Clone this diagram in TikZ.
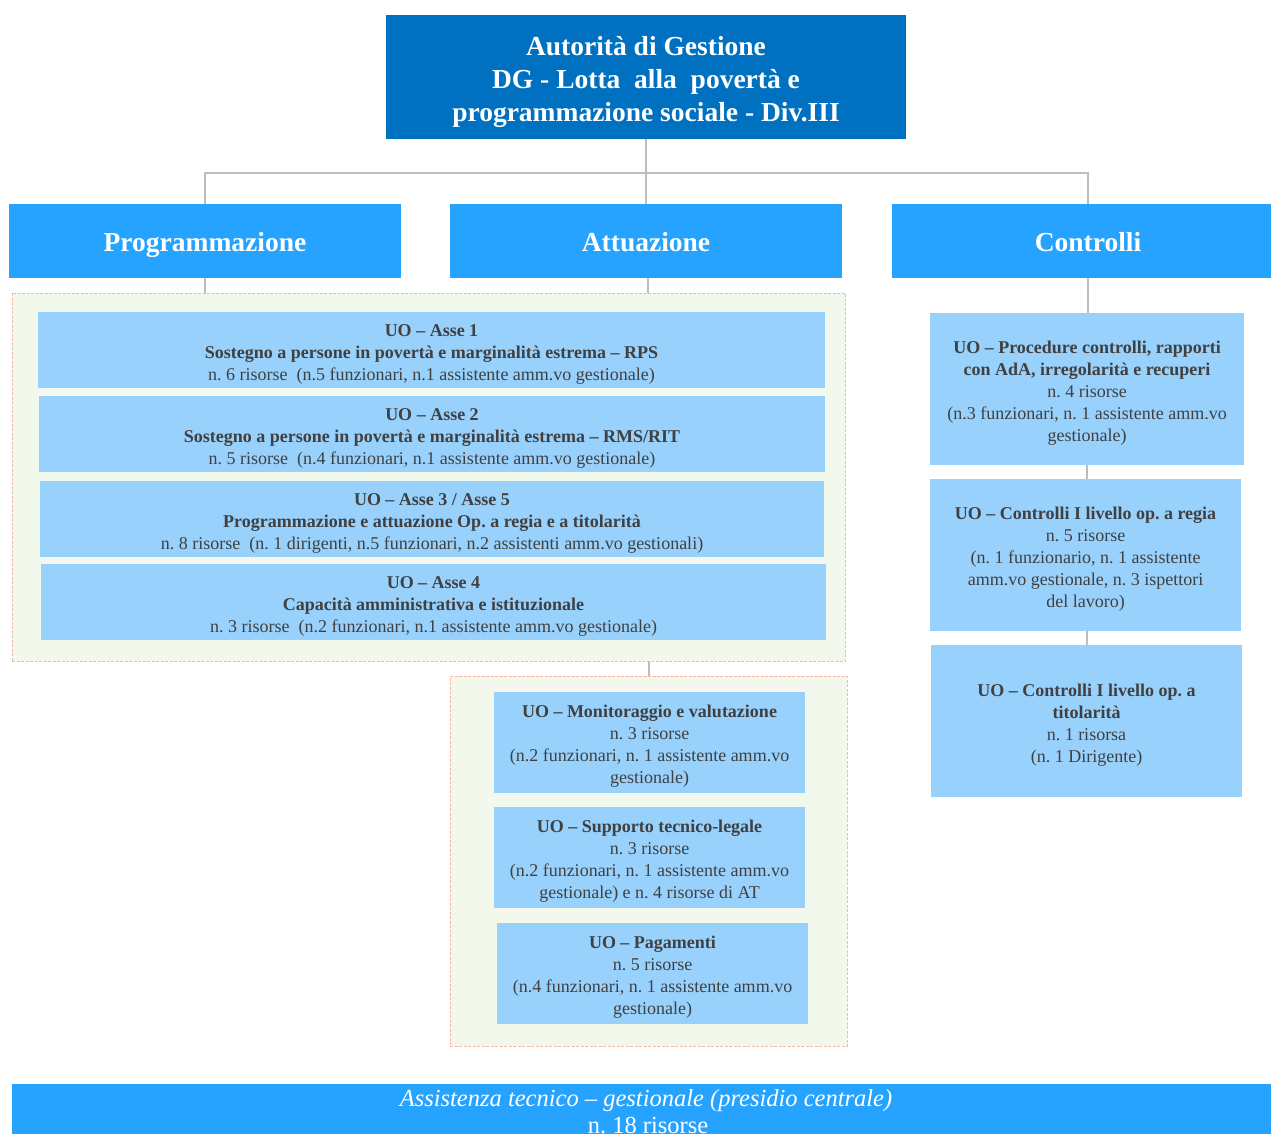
\documentclass[tikz,border=0pt]{standalone}
\usepackage{fontspec}
\setmainfont{Liberation Serif}
\frenchspacing
\definecolor{topblue}{HTML}{0070C0}
\definecolor{headblue}{HTML}{26A3FF}
\definecolor{lightbox}{HTML}{99D1FD}
\definecolor{framefill}{HTML}{F2F8EC}
\definecolor{frameline}{HTML}{F6B7A6}
\definecolor{conn}{HTML}{BDBDBD}
\definecolor{txt}{HTML}{404040}
\tikzset{
  topbox/.style={fill=topblue, inner sep=0pt},
  toptext/.style={text=white, inner sep=0pt, align=center,
    font=\fontsize{27.5}{33}\selectfont\bfseries},
  headbox/.style={fill=headblue, text=white, inner sep=0pt, align=center,
    font=\fontsize{27.5}{33}\selectfont\bfseries, minimum width=392pt, minimum height=74pt,
    text height=26pt, text depth=6pt},
  uobox/.style={fill=lightbox, inner sep=0pt},
  uotext/.style={text=txt, inner sep=0pt, align=center,
    font=\fontsize{18}{22}\selectfont},
  group/.style={fill=framefill, draw=frameline, line width=0.8pt, dash pattern=on 3pt off 1.5pt, inner sep=0pt},
  link/.style={draw=conn, line width=1.2pt},
  barbox/.style={fill=headblue, inner sep=0pt},
  bartext/.style={text=white, inner sep=0pt, anchor=base, font=\fontsize{24.5}{27}\selectfont}
}
\begin{document}
\begin{tikzpicture}[x=1pt,y=-1pt]
\useasboundingbox (0,0) rectangle (1271,1133);
\clip (0,0) rectangle (1271,1133);
% top
\node[topbox, minimum width=520pt, minimum height=124pt] (ag) at (646,77) {};
\node[toptext] (agt) at ([yshift=-5pt]ag.center)
  {Autorità di Gestione\\DG - Lotta\ \ alla\ \ povertà e\\programmazione sociale - Div.III};
% headers
\node[headbox] (prog) at (205,241) {Programmazione};
\node[headbox] (att) at (646,241) {Attuazione};
\node[headbox] (contr) at (1088,241) {Controlli};
\coordinate (bus) at (646,173);
\draw[link] (ag.south) -- (bus);
\draw[link] (prog.north) |- (bus) -| (contr.north);
\draw[link] (bus) -- (att.north);
% frame 1
\node[group, minimum width=833pt, minimum height=368pt] (f1) at (428.5,477) {};
\draw[link] (prog.south) -- (prog.south |- f1.north);
\draw[link] ([xshift=2pt]att.south) -- ([xshift=2pt]att.south |- f1.north);
\node[uobox, minimum width=787pt, minimum height=76pt] (a1) at (431.5,350) {};
\node[uotext] (a1t) at ([yshift=-4pt]a1.center)
  {\textbf{UO – Asse 1}\\\textbf{Sostegno a persone in povertà e marginalità estrema – RPS}\\n. 6 risorse\ \ (n.5 funzionari, n.1 assistente amm.vo gestionale)};
\node[uobox, minimum width=786pt, minimum height=76pt] (a2) at (432,434) {};
\node[uotext] (a2t) at ([yshift=-4pt]a2.center)
  {\textbf{UO – Asse 2}\\\textbf{Sostegno a persone in povertà e marginalità estrema – RMS/RIT}\\n. 5 risorse\ \ (n.4 funzionari, n.1 assistente amm.vo gestionale)};
\node[uobox, minimum width=784pt, minimum height=76pt] (a3) at (432,519) {};
\node[uotext] (a3t) at ([yshift=-4pt]a3.center)
  {\textbf{UO – Asse 3 / Asse 5}\\\textbf{Programmazione e attuazione Op. a regia e a titolarità}\\n. 8 risorse\ \ (n. 1 dirigenti, n.5 funzionari, n.2 assistenti amm.vo gestionali)};
\node[uobox, minimum width=785pt, minimum height=76pt] (a4) at (433.5,602) {};
\node[uotext] (a4t) at ([yshift=-4pt]a4.center)
  {\textbf{UO – Asse 4}\\\textbf{Capacità amministrativa e istituzionale}\\n. 3 risorse\ \ (n.2 funzionari, n.1 assistente amm.vo gestionale)};
% frame 2
\node[group, minimum width=397pt, minimum height=370pt] (f2) at (648.5,861) {};
\draw[link] (f1.south -| 649,0) -- (f2.north -| 649,0);
\node[uobox, minimum width=311pt, minimum height=101pt] (mon) at (649.5,742.5) {};
\node[uotext] (mont) at ([yshift=-4pt]mon.center)
  {\textbf{UO – Monitoraggio e valutazione}\\n. 3 risorse\\(n.2 funzionari, n. 1 assistente amm.vo\\gestionale)};
\node[uobox, minimum width=311pt, minimum height=101pt] (sup) at (649.5,857.5) {};
\node[uotext] (supt) at ([yshift=-4pt]sup.center)
  {\textbf{UO – Supporto tecnico-legale}\\n. 3 risorse\\(n.2 funzionari, n. 1 assistente amm.vo\\gestionale) e n. 4 risorse di AT};
\node[uobox, minimum width=311pt, minimum height=101pt] (pag) at (652.5,973.5) {};
\node[uotext] (pagt) at ([yshift=-4pt]pag.center)
  {\textbf{UO – Pagamenti}\\n. 5 risorse\\(n.4 funzionari, n. 1 assistente amm.vo\\gestionale)};
% controlli column
\node[uobox, minimum width=314pt, minimum height=152pt] (proc) at (1087,389) {};
\node[uotext] (proct) at ([yshift=-4pt]proc.center)
  {\textbf{UO – Procedure controlli, rapporti}\\\textbf{con AdA, irregolarità e recuperi}\\n. 4 risorse\\(n.3 funzionari, n. 1 assistente amm.vo\\gestionale)};
\node[uobox, minimum width=311pt, minimum height=152pt] (reg) at (1085.5,555) {};
\node[uotext] (regt) at ([yshift=-4pt]reg.center)
  {\textbf{UO – Controlli I livello op. a regia}\\n. 5 risorse\\(n. 1 funzionario, n. 1 assistente\\amm.vo gestionale, n. 3 ispettori\\del lavoro)};
\node[uobox, minimum width=311pt, minimum height=152pt] (tit) at (1086.5,721) {};
\node[uotext] (titt) at ([yshift=-4pt]tit.center)
  {\textbf{UO – Controlli I livello op. a}\\\textbf{titolarità}\\n. 1 risorsa\\(n. 1 Dirigente)};
\draw[link] (contr.south) -- (contr.south |- proc.north);
\draw[link] (proc.south -| 1087,0) -- (reg.north -| 1087,0);
\draw[link] (reg.south -| 1087,0) -- (tit.north -| 1087,0);
% bottom bar
\node[barbox, minimum width=1280pt, minimum height=70pt, anchor=north west] (bar) at (12,1084) {};
\node[bartext, font=\fontsize{24.5}{27}\selectfont\itshape] (bart) at (646,1106) {Assistenza tecnico – gestionale (presidio centrale)};
\node[bartext] (barn) at (648,1133) {n. 18 risorse};
\end{tikzpicture}
\end{document}
